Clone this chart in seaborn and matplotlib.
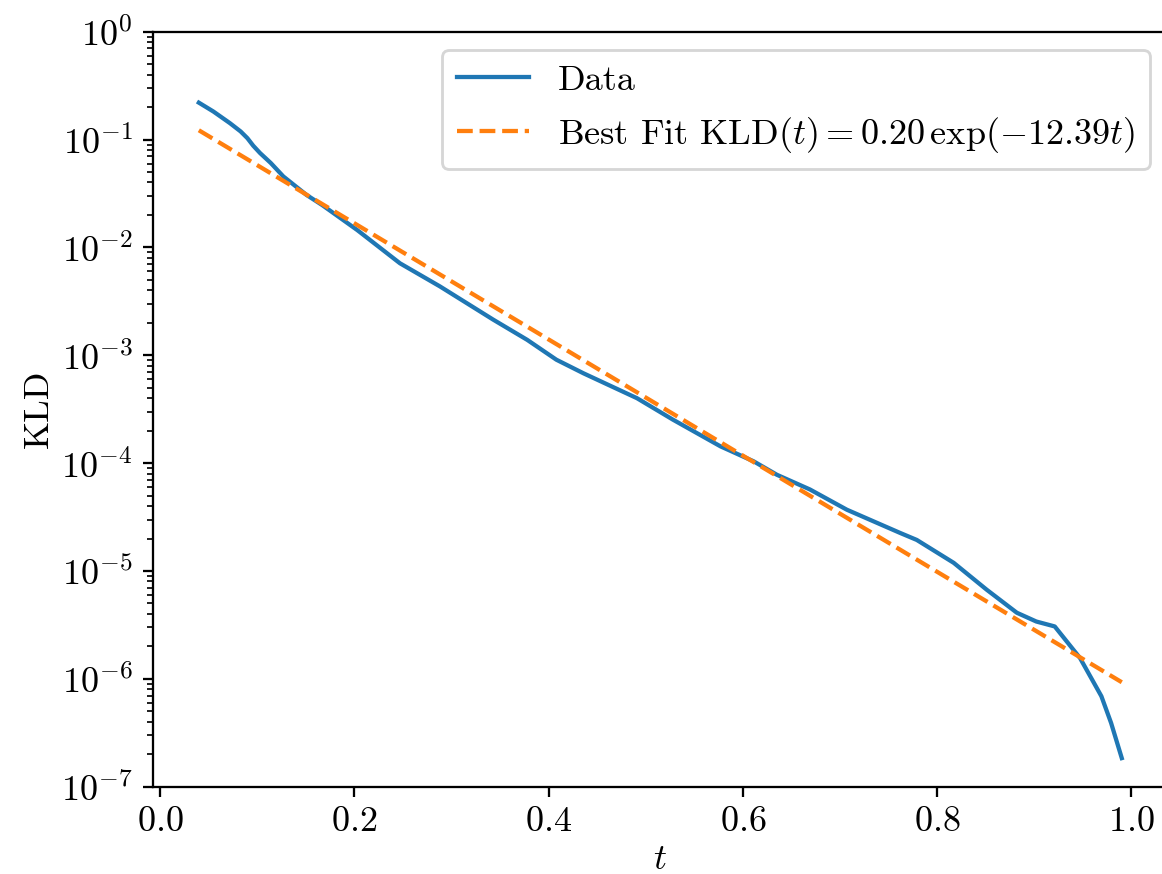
import matplotlib
matplotlib.use("Agg")
import matplotlib.pyplot as plt
import seaborn as sns

# Valores
t_data = [0.040, 0.055, 0.072, 0.083, 0.090, 0.096, 0.103, 0.114, 0.127, 0.151,
          0.167, 0.203, 0.247, 0.288, 0.343, 0.378, 0.408, 0.436, 0.491, 0.528,
          0.577, 0.611, 0.635, 0.669, 0.707, 0.762, 0.779, 0.817, 0.851, 0.882,
          0.902, 0.921, 0.947, 0.969, 0.979, 0.990]
kld_data = [0.220, 0.182, 0.142, 0.119, 0.103, 0.0877, 0.075, 0.0607, 0.0455, 0.0306,
            0.0247, 0.0145, 0.00713, 0.00436, 0.00214, 0.00139, 0.00091, 0.00068, 0.00040, 0.000253,
            0.000143, 0.000104, 7.8e-5, 5.7e-5, 3.7e-5, 2.25e-5, 1.94e-5, 1.19e-5, 6.7e-6, 4.1e-6,
            3.4e-6, 3.06e-6, 1.56e-6, 6.9e-7, 3.9e-7, 1.84e-7]

# Recta del ajuste (extremos)
t_fit = [0.04, 0.99]
kld_fit = [0.122, 9.3e-7]

label_data = "Data"
label_fit = r"Best Fit KLD$(t) = 0.20\,\exp(-12.39t)$"

plt.rcParams.update({
    "font.family": "serif",
    "font.serif": ["cmr10"],
    "mathtext.fontset": "cm",
    "axes.formatter.use_mathtext": True,
    "axes.unicode_minus": False,
    "font.size": 12.75,
})

dpi = 204.5
fig = plt.figure(figsize=(1162 / dpi, 874 / dpi), dpi=dpi)
ax = fig.add_axes([0.1314, 0.0999, 0.8737, 0.8638])

sns.lineplot(x=t_data, y=kld_data, ax=ax, color="#1f77b4", linewidth=1.5, label=label_data)
sns.lineplot(x=t_fit, y=kld_fit, ax=ax, color="#ff7f0e", linewidth=1.5,
             linestyle="--", label=label_fit)

ax.set_yscale("log")
ax.set_ylim(1e-7, 1)
ax.set_xlim(-0.0075, 1.0375)
ax.set_xlabel(r"$t$", labelpad=2)
ax.set_ylabel("KLD", labelpad=2)
ax.legend(loc="upper right")

fig.savefig("out.png", dpi=dpi)
